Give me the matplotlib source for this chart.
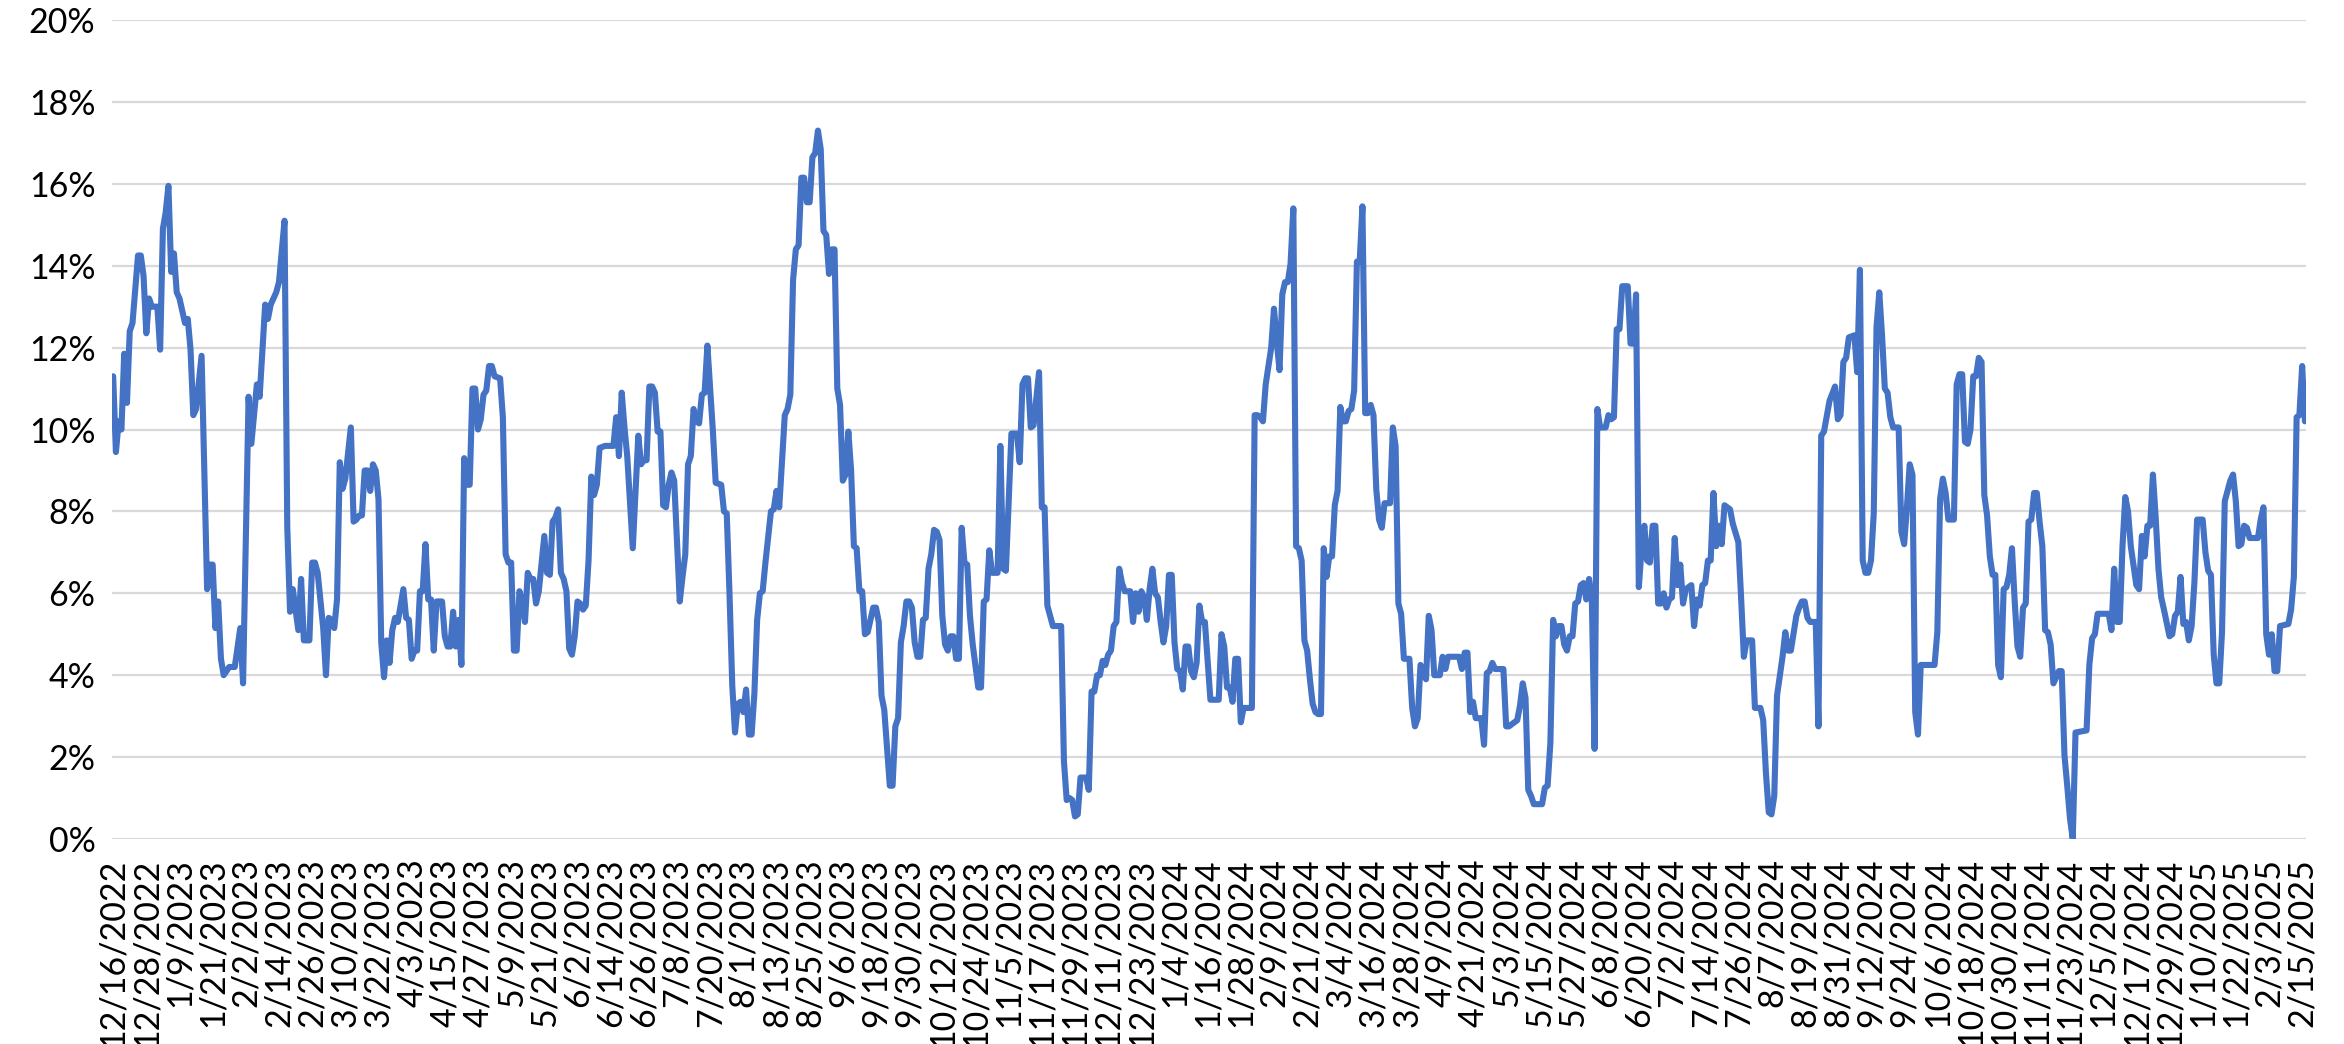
import datetime as dt
import matplotlib
matplotlib.use("Agg")
import matplotlib.pyplot as plt
from matplotlib.ticker import FuncFormatter

# days since 12/16/2022 and the value (%)
day_offsets = [
    0, 1, 2, 3, 4, 5, 6, 7, 9, 10, 11, 12, 13, 14, 16, 17, 18, 19, 20, 21, 22, 23, 24, 26, 27, 28, 29, 30, 32,
    34, 35, 36, 37, 38, 39, 40, 42, 44, 46, 47, 49, 50, 52, 53, 55, 56, 57, 59, 60, 62, 63, 64, 65, 67, 68,
    69, 71, 72, 73, 74, 76, 77, 78, 79, 80, 81, 82, 83, 84, 86, 87, 88, 89, 90, 91, 92, 93, 94, 95, 96, 97,
    98, 99, 100, 101, 102, 103, 105, 106, 107, 108, 109, 110, 111, 112, 113, 114, 115, 116, 117, 119, 120,
    121, 122, 123, 124, 125, 126, 127, 128, 129, 130, 131, 132, 133, 134, 135, 136, 137, 138, 140, 141, 142,
    143, 144, 145, 146, 147, 148, 149, 150, 151, 152, 153, 154, 156, 157, 158, 159, 160, 161, 162, 163, 164,
    165, 166, 167, 168, 169, 170, 171, 172, 173, 174, 175, 176, 178, 181, 182, 183, 184, 185, 186, 188, 190,
    191, 192, 193, 194, 195, 196, 197, 198, 199, 200, 201, 202, 203, 205, 206, 207, 208, 209, 210, 211, 212,
    213, 214, 215, 216, 217, 218, 220, 221, 222, 223, 224, 225, 226, 227, 228, 229, 230, 231, 232, 233, 234,
    235, 236, 238, 239, 240, 241, 243, 244, 245, 246, 247, 248, 249, 250, 251, 252, 253, 254, 255, 256, 257,
    258, 259, 260, 261, 262, 263, 264, 265, 266, 267, 268, 269, 270, 271, 272, 273, 275, 276, 277, 278, 279,
    281, 282, 283, 284, 285, 286, 287, 288, 289, 290, 291, 292, 293, 294, 295, 296, 297, 298, 299, 300, 301,
    302, 303, 304, 305, 306, 307, 308, 309, 310, 311, 313, 314, 315, 316, 317, 318, 320, 321, 322, 323, 324,
    325, 327, 328, 329, 330, 331, 332, 333, 334, 335, 336, 337, 338, 340, 343, 344, 345, 346, 347, 348, 349,
    350, 352, 353, 354, 355, 356, 357, 358, 359, 360, 361, 362, 363, 364, 365, 366, 368, 369, 370, 371, 372,
    373, 374, 375, 376, 377, 378, 379, 380, 381, 382, 383, 384, 385, 386, 387, 388, 389, 390, 391, 392, 393,
    394, 395, 397, 400, 401, 402, 403, 404, 405, 406, 407, 408, 409, 412, 413, 414, 415, 416, 417, 419, 420,
    421, 422, 423, 424, 425, 426, 427, 428, 429, 430, 431, 432, 433, 434, 435, 436, 437, 438, 439, 440, 441,
    442, 443, 444, 445, 446, 447, 448, 449, 450, 451, 452, 453, 454, 455, 456, 457, 458, 459, 460, 462, 463,
    464, 465, 466, 467, 469, 470, 471, 472, 473, 475, 476, 477, 478, 480, 481, 482, 483, 487, 488, 489, 490,
    491, 492, 493, 495, 496, 497, 498, 499, 500, 503, 504, 505, 507, 508, 509, 510, 511, 512, 513, 514, 517,
    518, 519, 520, 521, 522, 523, 524, 525, 526, 527, 528, 529, 530, 531, 532, 533, 534, 535, 536, 537, 538,
    540, 541, 542, 543, 544, 545, 546, 548, 549, 550, 551, 552, 553, 554, 555, 556, 557, 558, 559, 560, 561,
    562, 563, 564, 565, 566, 567, 568, 569, 571, 572, 573, 574, 575, 576, 577, 578, 579, 580, 581, 582, 583,
    585, 586, 588, 589, 590, 591, 593, 594, 596, 597, 598, 599, 600, 601, 602, 604, 605, 606, 607, 609, 610,
    611, 612, 613, 614, 616, 617, 618, 619, 621, 623, 624, 625, 626, 627, 628, 630, 631, 632, 633, 634, 635,
    636, 637, 638, 639, 640, 641, 642, 643, 644, 646, 647, 648, 649, 650, 651, 652, 653, 654, 659, 660, 661,
    662, 663, 664, 666, 667, 668, 669, 670, 671, 672, 673, 674, 675, 676, 677, 678, 679, 680, 681, 682, 683,
    684, 685, 686, 687, 688, 689, 690, 691, 692, 693, 694, 695, 696, 697, 698, 699, 700, 701, 702, 703, 704,
    705, 706, 707, 708, 709, 710, 714, 715, 716, 717, 718, 722, 723, 724, 725, 726, 727, 728, 729, 730, 732,
    733, 734, 735, 736, 737, 738, 739, 740, 741, 742, 744, 745, 746, 747, 748, 749, 750, 751, 752, 753, 754,
    756, 757, 758, 759, 760, 761, 762, 763, 764, 765, 766, 767, 768, 769, 770, 771, 772, 773, 776, 777, 778,
    779, 780, 781, 782, 783, 784, 787, 788, 789, 790, 791, 792, 793,
]
rate_pct = [
    11.3, 9.45, 10.2, 10.0, 11.85, 10.65, 12.4, 12.6, 14.25, 14.25, 13.75, 12.35, 13.2, 13.0, 13.0, 11.95,
    14.9, 15.3, 15.95, 13.85, 14.3, 13.35, 13.2, 12.6, 12.7, 11.95, 10.35, 10.5, 11.8,
    6.1, 6.7, 6.7, 5.15, 5.8, 4.4, 4.0, 4.2, 4.2, 5.15, 3.8, 10.8, 9.65, 11.1, 10.8, 13.05, 12.7, 13.05,
    13.35, 13.6, 15.1, 7.6, 5.55, 6.1, 5.1, 6.35,
    4.85, 4.85, 6.75, 6.75, 6.5, 5.15, 4.0, 5.4, 5.35, 5.15, 5.85, 9.2, 8.55, 8.8, 10.05, 7.75, 7.8, 7.9,
    7.9, 9.0, 9.0, 8.5, 9.15, 9.0, 8.3, 4.8,
    3.95, 4.85, 4.3, 5.1, 5.4, 5.3, 6.1, 5.4, 5.35, 4.4, 4.6, 4.6, 6.05, 6.05, 7.2, 5.85, 5.85, 4.6, 5.8,
    5.8, 4.95,
    4.7, 4.7, 5.55, 4.7, 5.35, 4.25, 9.3, 8.65, 8.65, 11.0, 11.0, 10.0, 10.25, 10.85, 10.95, 11.55, 11.55,
    11.3, 11.25, 10.3, 6.95,
    6.75, 6.75, 4.6, 4.6, 6.05, 5.8, 5.3, 6.5, 6.35, 6.35, 5.75, 6.05, 7.4, 6.5, 6.45, 7.75, 7.85, 8.05,
    6.5, 6.35, 6.05,
    4.65, 4.5, 4.95, 5.8, 5.75, 5.6, 5.7, 6.8, 8.85, 8.4, 8.65, 9.55, 9.6, 9.6, 10.3, 9.35, 10.9, 10.05,
    9.35, 7.1, 9.85,
    9.15, 9.25, 9.25, 11.05, 11.05, 10.9, 9.95, 9.95, 8.15, 8.1, 8.65, 8.95, 8.75, 5.8, 6.4, 6.95, 9.15,
    9.35, 10.5, 10.2, 10.15,
    10.85, 10.9, 12.05, 11.0, 9.95, 8.7, 8.65, 8.0, 7.95, 6.0, 3.75, 2.6, 3.3, 3.35, 3.1, 3.65, 2.55, 2.55,
    3.55, 5.35, 6.0,
    6.05, 6.75, 8.0, 8.05, 8.5, 8.1, 10.35, 10.5, 10.85, 13.65, 14.4, 14.5, 16.15, 16.15, 15.55, 15.55,
    16.65, 16.75, 17.3, 16.85, 14.85,
    14.75, 13.8, 14.4, 14.4, 11.0, 10.6, 8.75, 8.9, 9.95, 9.0, 7.15, 7.1, 6.05, 6.05, 5.0, 5.05, 5.65, 5.65,
    5.3, 3.5, 3.15,
    1.3, 1.3, 2.75, 2.95, 4.8, 5.2, 5.8, 5.8, 5.65, 4.8, 4.45, 4.45, 5.35, 5.4, 6.6, 6.95, 7.55, 7.5, 7.3,
    5.45, 4.75,
    4.6, 4.95, 4.95, 4.4, 4.4, 7.6, 6.75, 6.7, 5.45, 4.75, 3.7, 3.7, 5.8, 5.85, 7.05, 6.5, 6.5, 9.6, 6.6,
    6.55, 8.2,
    9.9, 9.9, 9.2, 11.1, 11.25, 11.25, 10.05, 10.1, 10.75, 11.4, 8.1, 8.1, 5.7, 5.2, 5.2, 1.9, 0.95, 1.0,
    0.95, 0.55, 0.6,
    1.5, 1.5, 1.2, 3.6, 3.6, 4.0, 4.0, 4.35, 4.25, 4.5, 4.6, 5.2, 5.3, 6.6, 6.25, 6.05, 6.05, 5.3, 6.0, 5.55,
    6.05,
    5.9, 5.35, 6.1, 6.6, 6.0, 5.9, 5.3, 4.8, 5.2, 6.45, 6.45, 4.8, 4.15, 4.1, 3.65, 4.7, 4.7, 4.1, 3.95, 4.3,
    5.7,
    5.3, 5.3, 3.4, 3.4, 5.0, 4.7, 3.7, 3.7, 3.35, 4.4, 4.4, 2.85, 3.2, 3.2, 10.35, 10.35, 10.3, 10.2, 11.1,
    12.0, 12.95,
    12.15, 11.45, 13.3, 13.6, 13.6, 14.05, 15.4, 7.15, 7.1, 6.8, 4.85, 4.6, 3.9, 3.3, 3.1, 3.05, 3.05, 7.1,
    6.4, 6.9, 6.9,
    8.15, 8.5, 10.55, 10.2, 10.2, 10.45, 10.5, 10.95, 14.1, 14.1, 15.45, 10.4, 10.4, 10.6, 10.35, 8.55, 7.8,
    7.6, 8.2, 8.2, 10.05,
    9.6, 5.75, 5.5, 4.4, 4.4, 3.2, 2.75, 2.95, 4.25, 3.9, 5.45, 5.1, 4.0, 4.0, 4.45, 4.15, 4.45, 4.45, 4.15,
    4.55, 4.55,
    3.1, 3.35, 2.95, 2.95, 2.3, 4.05, 4.1, 4.3, 4.15, 4.15, 2.75, 2.75, 2.85, 2.9, 3.25, 3.8, 3.45, 1.2,
    1.05, 0.85, 0.85,
    1.25, 1.3, 2.35, 5.35, 4.95, 5.2, 5.2, 4.75, 4.6, 4.95, 4.95, 5.75, 5.8, 6.2, 6.25, 5.85, 6.35, 5.85,
    2.2, 10.5, 10.05,
    10.05, 10.35, 10.25, 10.3, 12.45, 12.45, 13.5, 13.5, 12.1, 12.1, 13.3, 6.15, 7.1, 7.65, 6.8, 6.75, 7.65,
    7.65, 5.75, 5.75, 6.0,
    5.65, 5.85, 5.9, 7.35, 6.2, 6.7, 5.75, 6.1, 6.2, 5.2, 5.85, 5.7, 6.2, 6.25, 6.8, 6.8, 8.45, 7.15, 7.65,
    7.2, 8.15,
    8.05, 7.7, 7.25, 5.9, 4.45, 4.85, 4.85, 3.2, 3.2, 2.9, 1.6, 0.65, 0.6, 1.05, 3.5, 4.45, 5.05, 4.6, 4.6,
    5.45, 5.65,
    5.8, 5.8, 5.4, 5.3, 5.3, 2.75, 9.85, 9.95, 10.7, 11.05, 10.25, 10.35, 11.65, 11.75, 12.25, 12.3, 11.4,
    13.9, 6.8, 6.5, 6.5,
    6.8, 7.95, 12.5, 13.35, 12.3, 11.0, 10.9, 10.3, 10.05, 10.05, 7.5, 7.2, 8.1, 9.15, 8.9, 3.1, 2.55, 4.25,
    4.25, 5.05, 8.3,
    8.8, 8.45, 7.8, 7.8, 11.1, 11.35, 11.35, 9.7, 9.65, 10.0, 11.3, 11.3, 11.75, 11.65, 8.4, 7.9, 6.9, 6.45,
    6.45, 4.25, 3.95,
    6.1, 6.15, 6.45, 7.1, 5.8, 4.7, 4.45, 5.65, 5.75, 7.75, 7.8, 8.45, 8.45, 7.75, 7.15, 5.1, 5.05, 4.75,
    3.8, 3.95, 4.1,
    4.1, 2.05, 1.3, 0.5, 0.0, 2.6, 2.65, 4.25, 4.9, 5.0, 5.5, 5.5, 5.1, 6.6, 5.3, 5.3, 7.15, 8.35, 8.0, 7.15,
    6.2,
    6.1, 7.4, 6.9, 7.65, 7.65, 8.9, 7.85, 6.6, 5.9, 5.6, 4.95, 5.0, 5.45, 5.55, 6.4, 5.25, 5.3, 4.85, 5.2,
    6.25, 7.8,
    7.8, 7.0, 6.55, 6.45, 4.5, 3.8, 3.8, 5.05, 8.25, 8.5, 8.75, 8.9, 8.25, 7.15, 7.2, 7.65, 7.6, 7.35, 7.35,
    7.8, 8.1,
    5.0, 4.5, 5.0, 4.1, 4.1, 5.2, 5.25, 5.6, 6.4, 10.3, 10.35, 11.55, 10.2,
]

start = dt.date(2022, 12, 16)
tick_step = 12
n_ticks = 67  # 12/16/2022 ... 2/15/2025
tick_days = [i * tick_step for i in range(n_ticks)]
tick_labels = []
for d in tick_days:
    t = start + dt.timedelta(days=d)
    tick_labels.append(f"{t.month}/{t.day}/{t.year}")

plt.rcParams['font.family'] = ['Lato', 'DejaVu Sans']

fig = plt.figure(figsize=(23.44, 10.44), dpi=100)
ax = fig.add_axes([0.0478, 0.1964, 0.9360, 0.7844])

ax.plot(day_offsets, [v / 100 for v in rate_pct], color='#4472C4', lw=4.4,
        solid_joinstyle='round', solid_capstyle='round', zorder=3)

ax.set_xlim(-0.4, 793.4)
ax.set_ylim(0, 0.20)
ax.set_yticks([i / 100 for i in range(0, 21, 2)])
ax.yaxis.set_major_formatter(FuncFormatter(lambda v, p: f"{v * 100:.0f}%"))
ax.set_xticks(tick_days)
ax.set_xticklabels(tick_labels, rotation=90, va='top', ha='center')

ax.grid(axis='y', color='#D9D9D9', lw=1.6, zorder=0)
ax.tick_params(axis='both', length=0, labelsize=24.5, colors='#000000')
ax.tick_params(axis='x', pad=14)
ax.tick_params(axis='y', pad=12)
for s in ax.spines.values():
    s.set_visible(False)

fig.savefig('out.png', dpi=100, facecolor='white')
